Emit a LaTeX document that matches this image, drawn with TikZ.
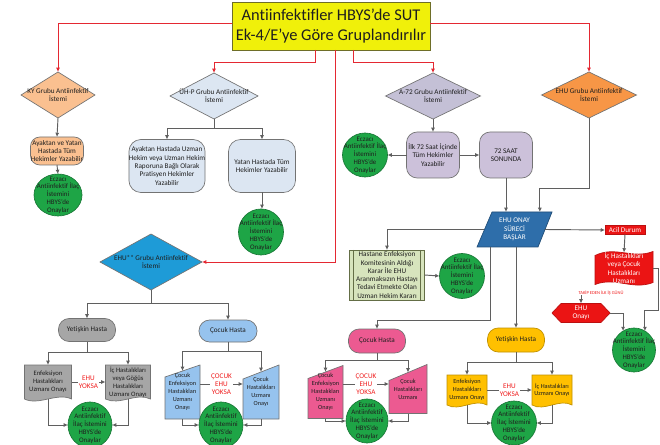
\documentclass[tikz,border=0pt]{standalone}
\usepackage{fontspec}
\setmainfont{Carlito}[Ligatures=NoCommon]
\usetikzlibrary{shapes.geometric,arrows.meta,calc,backgrounds}
\definecolor{lncol}{RGB}{95,95,95}
\definecolor{redln}{RGB}{228,40,50}
\definecolor{edgegray}{RGB}{115,115,115}
\definecolor{titley}{RGB}{240,240,10}
\definecolor{titleb}{RGB}{110,110,40}
\definecolor{peach}{RGB}{250,192,144}
\definecolor{uhpc}{RGB}{220,230,242}
\definecolor{a72d}{RGB}{196,192,214}
\definecolor{lav}{RGB}{204,193,218}
\definecolor{ehuor}{RGB}{247,150,70}
\definecolor{grn}{RGB}{30,165,70}
\definecolor{grnd}{RGB}{25,120,55}
\definecolor{parb}{RGB}{46,110,170}
\definecolor{olivebox}{RGB}{215,228,189}
\definecolor{olived}{RGB}{100,110,70}
\definecolor{redf}{RGB}{235,20,20}
\definecolor{ehusb}{RGB}{30,155,215}
\definecolor{grayf}{RGB}{166,166,166}
\definecolor{lblue}{RGB}{150,195,238}
\definecolor{pinkf}{RGB}{236,90,145}
\definecolor{yelf}{RGB}{255,192,0}
\definecolor{yeld}{RGB}{191,144,0}
\definecolor{txtd}{RGB}{30,30,30}
\definecolor{redtxt}{RGB}{240,30,30}
\newcommand\fs{\fontsize{5.4}{6.2}\selectfont}
\newcommand\fsg{\fontsize{5.2}{5.8}\selectfont}
\newcommand\fsd{\fontsize{5.0}{6.0}\selectfont}
\newcommand\fsm{\fontsize{4.7}{5.9}\selectfont}
\newcommand\gA{Eczacı\\Antiinfektif İlaç\\İstemini\\HBYS’de\\Onaylar}
\newcommand\gB{Eczacı\\Antiinfektif\\İlaç İstemini\\HBYS’de\\Onaylar}
\newcommand{\docpath}[2]{\path[#2] (#1.north west) -- (#1.north east) -- (#1.south east)
  .. controls ($(#1.south east)!0.3!(#1.south west)+(0,-7)$) and ($(#1.south east)!0.7!(#1.south west)+(0,7)$) .. (#1.south west) -- cycle;}
\newcommand{\manpath}[3]{\path[#3] (#1.south west) -- (#1.south east) -- (#1.north east) -- ($(#1.north west)+(0,#2)$) -- cycle;}
\tikzset{
  wh/.style 2 args={minimum width=#1*0.75pt, minimum height=#2*0.75pt},
  bs/.style={inner sep=0pt, outer sep=0pt, align=center, font=\fs, text=txtd},
  bx/.style={bs, draw=edgegray, line width=0.5pt},
  diam/.style={bs, diamond, draw=edgegray, line width=0.5pt},
  lab/.style={label={[bs]center:{#1}}},
  gcirc/.style={bs, ellipse, fill=grn, draw=grnd, line width=0.5pt},
  glab/.style={label={[bs,font=\fsg]center:{#1}}},
  conn/.style={draw=lncol, line width=0.7pt, -{Latex[length=3.2pt,width=3pt]}},
  rconn/.style={draw=redln, line width=0.7pt, -{Latex[length=3.2pt,width=3pt]}},
  redlbl/.style={bs, text=redtxt, fill=white, inner sep=0.8pt},
}
\begin{document}
\begin{tikzpicture}[x=0.75pt,y=-0.75pt]
\useasboundingbox (0,0) rectangle (660,445);

% title
\node[bs, draw=titleb, fill=titley, line width=0.6pt, wh={198}{48}, font=\fontsize{12.3}{15}\selectfont] (title) at (331,26) {Antiinfektifler HBYS’de SUT\\Ek-4/E’ye Göre Gruplandırılır};

% KY
\node[diam, fill=peach, wh={74}{46}, lab={KY Grubu Antiinfektif\\İstemi}] (ky) at (58,95) {};
\node[bx, fill=peach, rounded corners=7pt, wh={53}{28}] (kyb) at (57,151) {Ayaktan ve Yatan\\Hastada Tüm\\Hekimler Yazabilir};
\node[gcirc, wh={48}{42}, glab=\gA] (kyg) at (58,195) {};

% UH-P
\node[diam, fill=uhpc, wh={88}{46}, lab={ÜH-P Grubu Antiinfektif\\İstemi}] (uhp) at (214,96) {};
\node[bx, fill=uhpc, rounded corners=9pt, wh={71}{53}] (uhp1) at (167,166) {Ayaktan Hastada Uzman\\Hekim veya Uzman Hekim\\Raporuna Bağlı Olarak\\Pratisyen Hekimler\\Yazabilir};
\node[bx, fill=uhpc, rounded corners=9pt, wh={67}{53}] (uhp2) at (262,166) {Yatan Hastada Tüm\\Hekimler Yazabilir};
\node[gcirc, wh={45}{46}, glab=\gA] (uhpg) at (261,232) {};

% A-72
\node[diam, fill=a72d, wh={95}{46}, lab={A-72 Grubu Antiinfektif\\İstemi}] (a72) at (433,96) {};
\node[bx, fill=lav, rounded corners=8pt, wh={53}{46}] (a72b) at (433,155) {İlk 72 Saat İçinde\\Tüm Hekimler\\Yazabilir};
\node[gcirc, wh={45}{44}, glab=\gA] (a72g) at (365,155) {};
\node[bx, fill=lav, rounded corners=8pt, wh={53}{46}] (a72s) at (506,155) {72 SAAT\\SONUNDA};

% EHU
\node[diam, fill=ehuor, wh={95}{46}, lab={EHU Grubu Antiinfektif\\İstemi}] (ehu) at (589,95) {};

% EHU onay
\node[bs, text=white, wh={75}{35}] (par) at (514.5,229.5) {EHU ONAY\\SÜRECİ\\BAŞLAR};
\node[bx, fill=olivebox, draw=olived, wh={75}{50}] (gbox) at (387,275) {Hastane Enfeksiyon\\Komitesinin Aldığı\\Karar İle EHU\\Aranmaksızın Hastayı\\Tedavi Etmekte Olan\\Uzman Hekim Kararı};
\node[gcirc, wh={45}{45}, glab=\gA] (gboxg) at (462,276) {};

% Acil
\node[bx, fill=redf, draw=redf!80!black, text=white, wh={40}{9}] (acil) at (625,230) {Acil Durum};
\node[bs, text=white, wh={58}{31}] (ic) at (624,268) {İç Hastalıkları\\veya Çocuk\\Hastalıkları\\Uzmanı};
\node[bs, text=redtxt, font=\fontsize{3.4}{4}\selectfont] (tkp) at (601,293) {TAKİP EDEN İLK İŞ GÜNÜ};
\node[bs, text=white, wh={58}{19}] (ehuonay) at (581,313) {EHU\\Onayı};
\node[gcirc, wh={43}{44}, glab=\gA] (acilg) at (634,350) {};

% EHU**
\node[diam, fill=ehusb, wh={102}{56}, lab={EHU** Grubu Antiinfektif\\İstemi}] (ehuss) at (151,262) {};
\node[bx, fill=grayf, rounded corners=8pt, wh={57}{23}] (yet) at (87,330) {Yetişkin Hasta};
\node[bs, font=\fsd, wh={47}{34}] (yd1) at (48,382) {Enfeksiyon\\Hastalıkları\\Uzmanı Onayı};
\node[bs, font=\fsd, wh={45}{34}] (yd2) at (128,382) {İç Hastalıkları\\veya Göğüs\\Hastalıkları\\Uzmanı Onayı};
\node[gcirc, wh={44}{46}, glab=\gB] (yg) at (90,425) {};

\node[bx, fill=lblue, rounded corners=8pt, wh={58}{22}] (coc) at (228,331) {Çocuk Hasta};
\node[bs, font=\fsm, wh={35}{54}] (cm1) at (182.5,392) {Çocuk\\Enfeksiyon\\Hastalıkları\\Uzmanı\\Onayı};
\node[bs, font=\fsm, wh={36}{54}] (cm2) at (261,392) {Çocuk\\Hastalıkları\\Uzmanı\\Onayı};
\node[gcirc, wh={44}{46}, glab=\gB] (cg) at (221,425) {};

% pink
\node[bx, fill=pinkf, rounded corners=8pt, wh={57}{24}] (pc) at (377,341) {Çocuk Hasta};
\node[bs, font=\fsm, wh={35}{53}] (pm1) at (325.5,392) {Çocuk\\Enfeksiyon\\Hastalıkları\\Uzmanı\\Onayı};
\node[bs, font=\fsm, wh={38}{49}] (pm2) at (408,389) {Çocuk\\Hastalıkları\\Uzmanı};
\node[gcirc, wh={42}{44}, glab=\gB] (pg) at (367,421) {};

% yellow
\node[bx, fill=yelf, draw=yeld, rounded corners=8pt, wh={57}{24}] (ys) at (516,340) {Yetişkin Hasta};
\node[bs, font=\fsm, wh={40}{30}] (yd3) at (467,390) {Enfeksiyon\\Hastalıkları\\Uzmanı Onayı};
\node[bs, font=\fsm, wh={40}{30}] (yd4) at (552,390) {İç Hastalıkları\\Uzmanı Onayı};
\node[gcirc, wh={45}{44}, glab=\gB] (ygr) at (514,423) {};

% custom outlines
\begin{scope}[on background layer]
\fill[white] (0,0) rectangle (660,445);
\path[fill=parb, draw=parb!70!black, line width=0.5pt] (par.south west) -- ($(par.south east)+(-14,0)$) -- (par.north east) -- ($(par.north west)+(15,0)$) -- cycle;
\path[fill=redf, draw=redf!80!black, line width=0.5pt] ($(ic.north west)+(0,3)$) .. controls ($(ic.north west)!.35!(ic.north east)+(0,-7)$) and ($(ic.north west)!.65!(ic.north east)+(0,7)$) .. ($(ic.north east)+(0,-1)$) -- ($(ic.south east)+(0,-1)$) .. controls ($(ic.south east)!.35!(ic.south west)+(0,7)$) and ($(ic.south east)!.65!(ic.south west)+(0,-7)$) .. ($(ic.south west)+(0,1)$) -- cycle;
\path[fill=redf, draw=redf!80!black, line width=0.5pt] (ehuonay.west) -- ($(ehuonay.north west)+(9,0)$) -- ($(ehuonay.north east)+(-9,0)$) -- (ehuonay.east) -- ($(ehuonay.south east)+(-9,0)$) -- ($(ehuonay.south west)+(9,0)$) -- cycle;
\docpath{yd1}{fill=grayf, draw=edgegray, line width=0.5pt}
\docpath{yd2}{fill=grayf, draw=edgegray, line width=0.5pt}
\docpath{yd3}{fill=yelf, draw=yeld, line width=0.5pt}
\docpath{yd4}{fill=yelf, draw=yeld, line width=0.5pt}
\manpath{cm1}{12}{fill=lblue, draw=edgegray, line width=0.5pt}
\manpath{cm2}{14}{fill=lblue, draw=edgegray, line width=0.5pt}
\manpath{pm1}{13}{fill=pinkf, draw=edgegray, line width=0.5pt}
\manpath{pm2}{16}{fill=pinkf, draw=edgegray, line width=0.5pt}
\end{scope}
\draw[olived, line width=0.5pt] ($(gbox.north west)+(4,0)$) -- ($(gbox.south west)+(4,0)$);
\draw[olived, line width=0.5pt] ($(gbox.north east)+(-4,0)$) -- ($(gbox.south east)+(-4,0)$);

% red connectors
\draw[rconn] ([yshift=2.2pt]title.west) -| (ky.north);
\draw[rconn] ([yshift=2.2pt]title.east) -| (ehu.north);
\draw[rconn] ([xshift=-12pt]title.south) -- ++(0,12) -| (uhp.north);
\draw[rconn] ([xshift=3pt]title.south) |- (ehuss.east);
\draw[rconn] ([xshift=16.5pt]title.south) -- ++(0,12) -| (a72.north);

% KY
\draw[conn] (ky.south) -- (kyb.north);
\draw[conn] (kyb.south) -- (kyg.north);
% UH-P
\draw[conn] (uhp.south) -- ++(0,9) -| (uhp1.north);
\draw[conn] (uhp.south) -- ++(0,9) -| (uhp2.north);
\draw[conn] (uhp2.south) -- (uhp2.south |- uhpg.north);
% A-72
\draw[conn] (a72.south) -- (a72b.north);
\draw[conn] (a72b.west) -- (a72g.east);
\draw[conn] (a72b.east) -- (a72s.west);
\draw[conn] (a72s.south) -- (a72s.south |- par.north);
% EHU
\draw[conn] (ehu.south) -- ++(0,70) -| ([xshift=19pt]par.north);
% EHU onay
\draw[conn] ([xshift=5.6pt]par.west) -| (gbox.north);
\draw[conn] (gbox.east) -- (gboxg.west);
\draw[conn] ([xshift=-5.6pt]par.east) -- (acil.west);
\draw[conn] ([xshift=-18.4pt]par.south) -- ++(0,73) -| (pc.north);
\draw[conn] (par.south -| ys.north) -- (ys.north);
% Acil
\draw[conn] (acil.south) -- (ic.north);
\draw[conn] (ic.east) -- ++(5,0) -- ++(0,42) -| (acilg.60);
\draw[conn] (tkp.south -| ehuonay.north) -- (ehuonay.north);
\draw[conn] (ehuonay.east) -| (acilg.120);
% EHU**
\draw[conn] (ehuss.south) -- ++(0,13) -| (yet.north);
\draw[conn] (ehuss.south) -- ++(0,13) -| (coc.north);
\draw[conn] (yet.south) -- ++(0,11) -| (yd1.north);
\draw[conn] (yet.south) -- ++(0,11) -| (yd2.north);
\draw[conn] (yd1.east) -- (yd2.west) node[midway, redlbl] {EHU\\YOKSA};
\draw[conn] (yd1.south) |- (yg.west);
\draw[conn] (yd2.south) |- (yg.east);
\draw[conn] (coc.south) -- ++(0,9) -| ($(cm1.north)+(0,6)$);
\draw[conn] (coc.south) -- ++(0,9) -| ($(cm2.north)+(0,7)$);
\draw[conn] ($(cm1.east)+(0,-8)$) -- ($(cm2.west |- cm1.east)+(0,-8)$) node[midway, redlbl] {ÇOCUK\\EHU\\YOKSA};
\draw[conn] (cm1.south) |- (cg.west);
\draw[conn] (cm2.south) |- (cg.east);
% pink
\draw[conn] (pc.south) -- ++(0,7) -| ($(pm1.north)+(0,6.5)$);
\draw[conn] (pc.south) -- ++(0,7) -| ($(pm2.north)+(0,8)$);
\draw[conn] ($(pm1.east)+(0,-8)$) -- ($(pm2.west |- pm1.east)+(0,-8)$) node[midway, redlbl] {ÇOCUK\\EHU\\YOKSA};
\draw[conn] (pm1.south) |- (pg.west);
\draw[conn] (pm2.south) |- (pg.east);
% yellow
\draw[conn] (ys.south) -- ++(0,10) -| (yd3.north);
\draw[conn] (ys.south) -- ++(0,10) -| (yd4.north);
\draw[conn] (yd3.east) -- (yd4.west) node[midway, redlbl] {EHU\\YOKSA};
\draw[conn] (yd3.south) |- (ygr.west);
\draw[conn] (yd4.south) |- (ygr.east);
\end{tikzpicture}
\end{document}
